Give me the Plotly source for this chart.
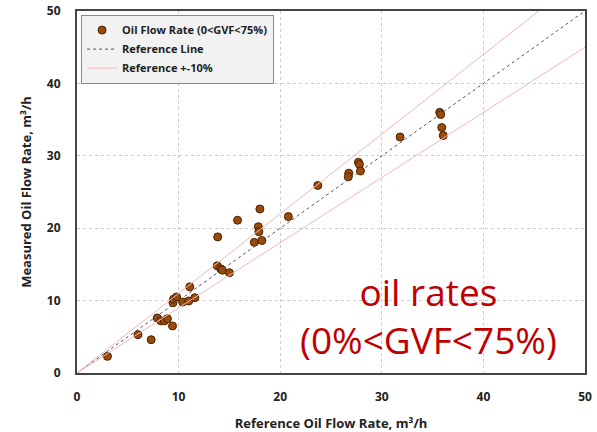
import plotly.graph_objects as go

ref_x = [3.0, 6.0, 7.3, 7.9, 8.25, 8.6, 8.9, 9.4, 9.45, 9.5, 9.8, 10.4, 11.0, 11.1, 11.6,
         13.8, 14.15, 14.3, 15.0, 13.85, 15.8, 18.0, 17.85, 17.9, 17.45, 18.2,
         20.8, 23.7, 26.75, 26.7, 27.7, 27.8, 27.9, 31.8, 35.7, 35.8, 35.9, 36.05]
meas_y = [2.3, 5.3, 4.6, 7.6, 7.2, 7.2, 7.5, 6.5, 9.7, 10.2, 10.5, 9.8, 9.95, 11.9, 10.4,
          14.8, 14.4, 14.2, 13.85, 18.8, 21.1, 22.65, 20.2, 19.5, 18.05, 18.3,
          21.6, 25.9, 27.6, 27.1, 29.1, 28.8, 27.9, 32.6, 36.0, 35.7, 33.9, 32.8]
line_x = [0, 50]
ticks = [0, 10, 20, 30, 40, 50]

fig = go.Figure()
fig.add_trace(go.Scatter(
    x=ref_x, y=meas_y, mode="markers", name="Oil Flow Rate (0<GVF<75%)",
    marker=dict(size=8, color="#9a4a0a", line=dict(color="#4a2200", width=1))))
fig.add_trace(go.Scatter(
    x=line_x, y=line_x, mode="lines", name="Reference Line",
    line=dict(color="#555555", width=1, dash="dot")))
fig.add_trace(go.Scatter(
    x=line_x, y=[v * 1.1 for v in line_x], mode="lines", name="Reference +-10%",
    line=dict(color="#f4b8b8", width=1)))
fig.add_trace(go.Scatter(
    x=line_x, y=[v * 0.9 for v in line_x], mode="lines", showlegend=False,
    line=dict(color="#f4b8b8", width=1)))

fig.add_annotation(x=34.6, y=8.0, xref="x", yref="y", showarrow=False,
                   text="oil rates<br>(0%<GVF<75%)",
                   font=dict(family="Open Sans", size=37, color="#c00000"),
                   align="center")

axis_common = dict(range=[0, 50], tickvals=ticks, showgrid=True,
                   gridcolor="#cccccc", griddash="dot", gridwidth=1,
                   zeroline=False, showline=True, mirror=True,
                   linecolor="#444444", linewidth=2, automargin=False,
                   tickfont=dict(family="Open Sans", size=12, color="#222222", weight="bold"),
                   ticks="")

fig.update_layout(
    width=597, height=432,
    margin=dict(l=77, r=12, t=11, b=59),
    plot_bgcolor="white", paper_bgcolor="white",
    font=dict(family="Open Sans", color="#222222"),
    xaxis=dict(**axis_common, ticklabelstandoff=12,
               title=dict(text="Reference Oil Flow Rate, m³/h", standoff=14,
                          font=dict(family="Open Sans", size=13, weight="bold"))),
    yaxis=dict(**axis_common, ticklabelstandoff=12,
               title=dict(text="Measured Oil Flow Rate, m³/h", standoff=12,
                          font=dict(family="Open Sans", size=13, weight="bold"))),
    legend=dict(x=0.008, y=0.99, xanchor="left", yanchor="top",
                bgcolor="#f2f2f2", bordercolor="#888888", borderwidth=1,
                font=dict(family="Open Sans", size=11, color="#222222", weight="bold"),
                tracegroupgap=0, itemwidth=30),
    showlegend=True,
)

fig.write_html("out.html")
